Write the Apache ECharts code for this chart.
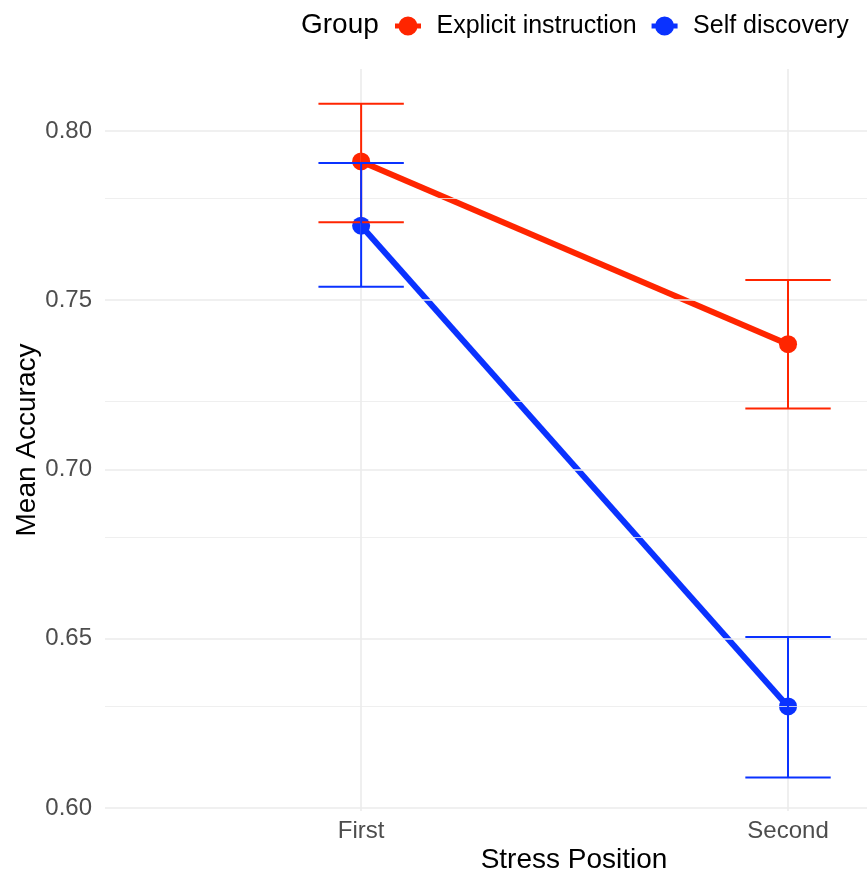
<!DOCTYPE html>
<html>
<head>
<meta charset="utf-8">
<script src="https://cdn.jsdelivr.net/npm/echarts@6/dist/echarts.min.js"></script>
<style>
html,body{margin:0;padding:0;background:#fff;}
#chart{width:867px;height:875px;}
</style>
</head>
<body>
<div id="chart"></div>
<script>
// ---- data ----
var categories = ['First', 'Second'];
var groups = ['Explicit instruction', 'Self discovery'];
var explicitMean = [0.791, 0.737];
var explicitLow  = [0.773, 0.718];
var explicitHigh = [0.808, 0.756];
var selfMean = [0.772, 0.630];
var selfLow  = [0.754, 0.609];
var selfHigh = [0.7905, 0.6505];
var yTicks = [0.60, 0.65, 0.70, 0.75, 0.80];
var yMinorTicks = [0.625, 0.675, 0.725, 0.775];

var RED = '#FF2500';
var BLUE = '#0A32FF';
var FONT = '"Liberation Sans", Arial, Helvetica, sans-serif';

function pts(arr) { return arr.map(function (v, i) { return [i + 1, v]; }); }
function errData(low, high) { return low.map(function (v, i) { return [i + 1, v, high[i]]; }); }

function errRender(color) {
  return function (params, api) {
    var x = api.value(0);
    var lo = api.coord([x, api.value(1)]);
    var hi = api.coord([x, api.value(2)]);
    var l = api.coord([x - 0.1, api.value(1)]);
    var r = api.coord([x + 0.1, api.value(1)]);
    var half = (r[0] - l[0]) / 2;
    var st = { stroke: color, lineWidth: 2 };
    return {
      type: 'group',
      children: [
        { type: 'line', shape: { x1: lo[0], y1: lo[1], x2: hi[0], y2: hi[1] }, style: st },
        { type: 'line', shape: { x1: lo[0] - half, y1: lo[1], x2: lo[0] + half, y2: lo[1] }, style: st },
        { type: 'line', shape: { x1: hi[0] - half, y1: hi[1], x2: hi[0] + half, y2: hi[1] }, style: st }
      ]
    };
  };
}

var gridMajor = yTicks.map(function (v) { return { yAxis: v, lineStyle: { width: 1.6 } }; })
  .concat(categories.map(function (c, i) { return { xAxis: i + 1, lineStyle: { width: 1.6 } }; }));
var gridMinor = yMinorTicks.map(function (v) { return { yAxis: v, lineStyle: { width: 0.8 } }; });

var legendIcon = 'path://M0,6.5H26V11.5H0Z M3.5,9A9.5,9.5 0 1,1 22.5,9A9.5,9.5 0 1,1 3.5,9Z';

var chart = echarts.init(document.getElementById('chart'));
chart.setOption({
  animation: false,
  backgroundColor: '#ffffff',
  grid: { left: 105, right: 0, top: 69, bottom: 64, containLabel: false },
  legend: {
    left: 390, top: 7,
    itemWidth: 27, itemHeight: 19, itemGap: 15,
    icon: legendIcon,
    data: [
      { name: groups[0], itemStyle: { color: RED } },
      { name: groups[1], itemStyle: { color: BLUE } }
    ],
    textStyle: { fontFamily: FONT, fontSize: 25, color: '#000', padding: [0, 0, 0, 10], lineHeight: 28 }
  },
  xAxis: {
    type: 'value', min: 0.4, max: 2.185,
    axisLine: { show: false }, axisTick: { show: false }, splitLine: { show: false },
    axisLabel: {
      customValues: [1, 2],
      formatter: function (v) { return categories[Math.round(v) - 1] || ''; },
      fontFamily: FONT, fontSize: 24, color: '#4d4d4d', margin: 8
    }
  },
  yAxis: {
    type: 'value', min: 0.5991, max: 0.8183,
    axisLine: { show: false }, axisTick: { show: false }, splitLine: { show: false },
    axisLabel: {
      customValues: yTicks,
      formatter: function (v) { return v.toFixed(2); },
      fontFamily: FONT, fontSize: 24, color: '#4d4d4d', margin: 13
    }
  },
  graphic: [
    { type: 'text', x: 301, y: 25, style: { text: 'Group', font: '28px ' + FONT, fill: '#000', align: 'left', verticalAlign: 'middle' } },
    { type: 'text', x: 574, y: 860, style: { text: 'Stress Position', font: '28px ' + FONT, fill: '#000', align: 'center', verticalAlign: 'middle' } },
    { type: 'text', x: 27, y: 440, rotation: Math.PI / 2, style: { text: 'Mean Accuracy', font: '28px ' + FONT, fill: '#000', align: 'center', verticalAlign: 'middle' } }
  ],
  series: [
    {
      type: 'line', name: '_grid', data: [], silent: true, z: 0,
      markLine: { silent: true, symbol: 'none', label: { show: false }, animation: false,
        lineStyle: { color: '#ebebeb', type: 'solid' }, data: gridMinor.concat(gridMajor) }
    },
    {
      type: 'line', name: groups[0], data: pts(explicitMean), z: 2,
      lineStyle: { color: RED, width: 6 }, itemStyle: { color: RED },
      symbol: 'circle', symbolSize: 18, showSymbol: true
    },
    {
      type: 'line', name: groups[1], data: pts(selfMean), z: 2,
      lineStyle: { color: BLUE, width: 6 }, itemStyle: { color: BLUE },
      symbol: 'circle', symbolSize: 18, showSymbol: true
    },
    { type: 'custom', name: groups[0] + ' error', data: errData(explicitLow, explicitHigh), z: 5, renderItem: errRender(RED) },
    { type: 'custom', name: groups[1] + ' error', data: errData(selfLow, selfHigh), z: 5, renderItem: errRender(BLUE) }
  ]
});
</script>
</body>
</html>
